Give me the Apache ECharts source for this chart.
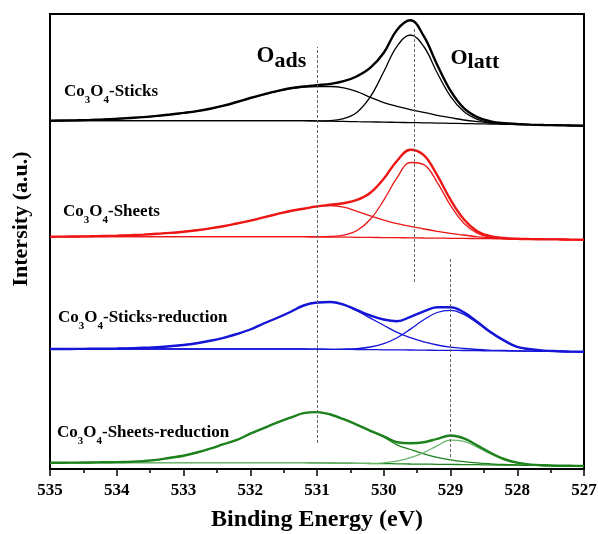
<!DOCTYPE html>
<html>
<head>
<meta charset="utf-8">
<script src="https://cdn.jsdelivr.net/npm/echarts@6/dist/echarts.min.js"></script>
<style>
  html, body { margin: 0; padding: 0; background: #fff; }
  #chart { width: 598px; height: 534px; }
</style>
</head>
<body>
<div id="chart"></div>
<script>
// binding energy grid (eV), shared by every curve
const energy = [535, 534.8, 534.6, 534.4, 534.2, 534, 533.8, 533.6, 533.4, 533.2,
  533, 532.8, 532.6, 532.4, 532.2, 532, 531.8, 531.6, 531.4, 531.2,
  531, 530.8, 530.6, 530.4, 530.2, 530, 529.8, 529.6, 529.4, 529.2,
  529, 528.8, 528.6, 528.4, 528.2, 528, 527.8, 527.6, 527.4, 527.2, 527]

// Co3O4-Sticks
const sticksBg = [0, 0, 0, 0, 0, 0, 0, 0, 0, 0, 0, 0, 0, 0, 0, 0, 0, 0, 0, 0,
  -0.2, -0.5, -0.7, -1.0, -1.2, -1.4, -1.7, -1.9, -2.1, -2.4, -2.6, -2.9, -3.1, -3.3, -3.6, -3.8, -4.0, -4.3, -4.5, -4.8, -5.0]
const sticksOads = [0, 0.1, 0.3, 0.7, 1.2, 1.8, 2.6, 3.5, 4.6, 6, 7.6, 9.4, 11.8, 14.8, 18.5, 22.5, 26, 29.3, 32, 33.5,
  34.2, 34.2, 32.8, 29, 23.3, 18.1, 14.3, 11.1, 8.4, 5.4, 3.0, 0.7, -0.9, -2.1, -3.0, -3.5, -3.9, -4.3, -4.5, -4.8, -5.0]
const sticksOlatt = [0, 0, 0, 0, 0, 0, 0, 0, 0, 0, 0, 0, 0, 0, 0, 0, 0, 0, 0, 0,
  -0.1, 0.1, 2.1, 8.5, 24, 48.9, 74.6, 85.7, 74.2, 47.9, 24.4, 9.1, 1.4, -1.8, -3.1, -3.6, -4.0, -4.3, -4.5, -4.8, -5.0]
const sticksEnv = [0, 0.2, 0.4, 0.8, 1.3, 1.9, 2.7, 3.6, 4.8, 6.2, 7.8, 9.6, 12, 15, 18.7, 22.7, 26.3, 29.6, 32.4, 34.2,
  35.5, 36.8, 39.5, 44.5, 53, 68, 91, 100.5, 84.5, 56, 30, 12.5, 3.6, -0.6, -2.5, -3.3, -3.9, -4.3, -4.5, -4.8, -5.0]

// Co3O4-Sheets
const sheetsBg = [0, 0, 0, 0, 0, 0, 0, 0, 0, 0, 0, 0, 0, 0, 0, 0, 0, 0, 0, 0,
  -0.1, -0.3, -0.4, -0.6, -0.7, -0.9, -1.0, -1.1, -1.3, -1.4, -1.6, -1.7, -1.9, -2.0, -2.1, -2.3, -2.4, -2.6, -2.7, -2.9, -3.0]
const sheetsOads = [0, 0.1, 0.2, 0.4, 0.7, 1.0, 1.5, 2.1, 2.9, 3.8, 5.0, 6.5, 8.3, 10.5, 13.2, 16, 19.3, 22.6, 25.7, 28,
  30.2, 31.2, 29.6, 25.4, 20.8, 16.6, 13, 10.4, 7.7, 5.4, 3.4, 1.7, -0.1, -0.9, -1.6, -2.1, -2.4, -2.6, -2.7, -2.9, -3.0]
const sheetsOlatt = [0, 0, 0, 0, 0, 0, 0, 0, 0, 0, 0, 0, 0, 0, 0, 0, 0, 0, 0, 0,
  -0.1, 0.2, 1.6, 6.2, 17.4, 36.5, 59.1, 74.2, 72.1, 54.4, 31.4, 13.5, 3.6, -0.5, -1.8, -2.3, -2.4, -2.6, -2.7, -2.9, -3.0]
const sheetsEnv = [0, 0.1, 0.2, 0.4, 0.7, 1.0, 1.5, 2.1, 2.9, 3.8, 5.0, 6.5, 8.3, 10.5, 13.2, 16, 19.3, 22.6, 25.7, 28,
  30.3, 31.9, 33.5, 36.8, 44, 58, 76, 87, 81.5, 61.5, 37, 17.5, 5.5, 0.6, -1.3, -2.1, -2.4, -2.6, -2.7, -2.9, -3.0]

// Co3O4-Sticks-reduction
const redSticksBg = [0, 0, 0, 0, 0, 0, 0, 0, 0, 0, 0, 0, 0, 0, 0, 0, 0, 0, 0, 0,
  -0.1, -0.3, -0.4, -0.5, -0.6, -0.8, -0.9, -1.0, -1.2, -1.3, -1.4, -1.5, -1.7, -1.8, -1.9, -2.1, -2.2, -2.3, -2.4, -2.6, -2.7]
const redSticksOads = [0, 0, 0.1, 0.2, 0.3, 0.5, 0.8, 1.2, 1.9, 2.8, 4.0, 5.8, 8.2, 11.2, 15, 19.5, 25.5, 31, 37, 43.5,
  46.4, 46.9, 44.1, 38, 30.9, 23.7, 16.6, 11.3, 7.1, 4.0, 1.8, 0.5, -0.5, -1.1, -1.5, -1.9, -2.1, -2.3, -2.4, -2.6, -2.7]
const redSticksOlatt = [0, 0, 0, 0, 0, 0, 0, 0, 0, 0, 0, 0, 0, 0, 0, 0, 0, 0, 0, 0,
  -0.1, -0.3, -0.1, 0.4, 2.0, 5.3, 11.3, 19.9, 29.3, 36.5, 38.6, 34.6, 26.0, 16.3, 8.2, 1.9, -0.3, -1.6, -2.2, -2.6, -2.7]
const redSticksEnv = [0, 0, 0.1, 0.2, 0.3, 0.5, 0.8, 1.2, 1.9, 2.8, 4.0, 5.8, 8.2, 11.2, 15, 19.5, 25.5, 31, 37, 43.5,
  46.5, 47, 44.4, 38.9, 33.5, 29.5, 27.8, 32.2, 37.6, 41.8, 41.8, 36.6, 27.2, 17, 8.6, 2.1, -0.2, -1.6, -2.2, -2.6, -2.7]

// Co3O4-Sheets-reduction
const redSheetsBg = [0, 0, 0, 0, 0, 0, 0, 0, 0, 0, 0, 0, 0, 0, 0, 0, 0, 0, 0, 0,
  -0.2, -0.3, -0.5, -0.6, -0.8, -0.9, -1.1, -1.3, -1.4, -1.6, -1.7, -1.9, -2.0, -2.2, -2.4, -2.5, -2.7, -2.8, -3.0, -3.1, -3.3]
const redSheetsOads = [0, 0, 0.1, 0.2, 0.4, 0.6, 1.0, 1.6, 2.8, 5.0, 7.0, 10.2, 14, 18.5, 22.8, 29, 34.5, 40, 45, 49.5,
  50.6, 48.2, 43.5, 37.9, 31.7, 25.6, 17.9, 13.2, 8.9, 5.4, 2.9, 1.1, -0.2, -1.1, -1.8, -2.2, -2.6, -2.8, -3.0, -3.1, -3.3]
const redSheetsOlatt = [0, 0, 0, 0, 0, 0, 0, 0, 0, 0, 0, 0, 0, 0, 0, 0, 0, 0, 0, 0,
  -0.2, -0.3, -0.5, -0.6, -0.6, -0.1, 1.5, 5.0, 10.1, 16.9, 22.6, 21.4, 15.5, 8.8, 3.1, -0.3, -2.0, -2.6, -3.0, -3.1, -3.3]
const redSheetsEnv = [0, 0, 0.1, 0.2, 0.4, 0.6, 1.0, 1.6, 2.8, 5.0, 7.0, 10.2, 14, 18.5, 22.8, 29, 34.5, 40, 45, 49.5,
  50.6, 48.2, 43.5, 37.9, 31.9, 26.4, 20.5, 19.5, 20.4, 23.9, 27.2, 24.4, 17.3, 9.9, 3.7, 0, -1.9, -2.6, -3.0, -3.1, -3.3]

// dashed guide lines: energy, lower and upper intensity
const guideEnergy = [531.0, 529.55, 529.0]
const guideLow = [26, 187, 12]
const guideHigh = [422, 441, 211]

const FONT = "'Liberation Serif', 'Times New Roman', serif"

const samples = [
  { label: ['Co', '3', 'O', '4', '-Sticks'], color: '#000000', lattColor: '#000000', offset: 348.3,
    bg: sticksBg, oads: sticksOads, olatt: sticksOlatt, env: sticksEnv, pos: [64, 91.5] },
  { label: ['Co', '3', 'O', '4', '-Sheets'], color: '#ee1515', lattColor: '#ee1515', offset: 232.3,
    bg: sheetsBg, oads: sheetsOads, olatt: sheetsOlatt, env: sheetsEnv, pos: [63, 211.5] },
  { label: ['Co', '3', 'O', '4', '-Sticks-reduction'], color: '#1515d8', lattColor: '#1515d8', offset: 120,
    bg: redSticksBg, oads: redSticksOads, olatt: redSticksOlatt, env: redSticksEnv, pos: [58, 317.5] },
  { label: ['Co', '3', 'O', '4', '-Sheets-reduction'], color: '#1d821d', lattColor: '#6db46d', offset: 6.3,
    bg: redSheetsBg, oads: redSheetsOads, olatt: redSheetsOlatt, env: redSheetsEnv, pos: [57, 432.5] }
]

function curve(ys, offset, color, width, z) {
  return {
    type: 'line',
    data: energy.map((e, i) => [e, ys[i] + offset]),
    smooth: 0.4,
    symbol: 'none',
    lineStyle: { color: color, width: width },
    z: z,
    silent: true
  }
}

const series = []
samples.forEach(s => {
  series.push(curve(s.bg, s.offset, s.color, 1.3, 3))
  series.push(curve(s.oads, s.offset, s.color, 1.3, 3))
  series.push(curve(s.olatt, s.offset, s.lattColor, 1.3, 3))
  series.push(curve(s.env, s.offset, s.color, 2.4, 4))
})

series.push({
  type: 'line',
  data: [],
  z: 2,
  markLine: {
    silent: true,
    symbol: 'none',
    label: { show: false },
    lineStyle: { color: '#666', width: 1, type: [3, 2] },
    data: guideEnergy.map((e, i) => [{ coord: [e, guideLow[i]] }, { coord: [e, guideHigh[i]] }])
  }
})

const textStyleMain = { fontFamily: FONT, fontWeight: 'bold', color: '#000' }

const graphic = samples.map(s => ({
  type: 'text',
  x: s.pos[0],
  y: s.pos[1],
  style: {
    text: '{m|' + s.label[0] + '}{s|' + s.label[1] + '}{m|' + s.label[2] + '}{s|' + s.label[3] + '}{m|' + s.label[4] + '}',
    verticalAlign: 'middle',
    rich: {
      m: Object.assign({ fontSize: 17 }, textStyleMain),
      s: Object.assign({ fontSize: 11, padding: [17, 0, 0, 0] }, textStyleMain)
    }
  }
}))

graphic.push({
  type: 'text', x: 256.5, y: 56.4,
  style: {
    text: '{o|O}{s|ads}', verticalAlign: 'middle',
    rich: {
      o: Object.assign({ fontSize: 23 }, textStyleMain),
      s: Object.assign({ fontSize: 22, padding: [9, 0, 0, 0] }, textStyleMain)
    }
  }
})
graphic.push({
  type: 'text', x: 450.5, y: 58,
  style: {
    text: '{o|O}{s|latt}', verticalAlign: 'middle',
    rich: {
      o: Object.assign({ fontSize: 22 }, textStyleMain),
      s: Object.assign({ fontSize: 22, padding: [9, 0, 0, 0] }, textStyleMain)
    }
  }
})
graphic.push({
  type: 'text', x: 21.5, y: 219, rotation: Math.PI / 2,
  style: Object.assign({ text: 'Intersity (a.u.)', fontSize: 22, align: 'center', verticalAlign: 'middle' }, textStyleMain)
})

const chart = echarts.init(document.getElementById('chart'))
chart.setOption({
  animation: false,
  backgroundColor: '#fff',
  grid: {
    left: 50, right: 14, top: 14, bottom: 65,
    outerBoundsMode: 'none',
    show: true, borderColor: '#000', borderWidth: 2
  },
  xAxis: {
    type: 'value',
    min: 527,
    max: 535,
    interval: 1,
    inverse: true,
    name: 'Binding Energy (eV)',
    nameLocation: 'middle',
    nameGap: 39,
    nameTextStyle: { fontFamily: FONT, fontWeight: 'bold', fontSize: 24, color: '#000' },
    axisLine: { lineStyle: { color: '#000', width: 2 } },
    axisTick: { show: true, length: 7, lineStyle: { color: '#000', width: 1.5 } },
    minorTick: { show: true, splitNumber: 2, length: 4, lineStyle: { color: '#000', width: 1.5 } },
    axisLabel: { fontFamily: FONT, fontWeight: 'bold', fontSize: 17, color: '#000', margin: 13 },
    splitLine: { show: false },
    minorSplitLine: { show: false }
  },
  yAxis: {
    type: 'value',
    min: 0,
    max: 455,
    axisLine: { show: true, lineStyle: { color: '#000', width: 2 } },
    axisTick: { show: false },
    axisLabel: { show: false },
    splitLine: { show: false }
  },
  graphic: graphic,
  series: series
})
</script>
</body>
</html>
